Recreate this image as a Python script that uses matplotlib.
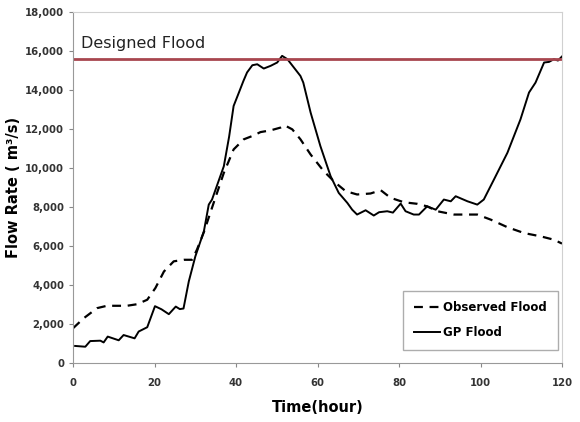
import numpy as np
import matplotlib.pyplot as plt
from matplotlib.ticker import FuncFormatter

# hours and flows
obs_hours = [0, 2.6, 5.9, 8.3, 13.2, 15.7, 18.2, 20.2, 22.3, 24.7, 27.2, 29.2, 30.4,
             32.1, 34.5, 37, 39.4, 41.9, 44, 46, 48.5, 50.9, 51.9, 53.8, 55.8,
             58.3, 61.5, 64.4, 66.9, 69.7, 73, 75.5, 77.9, 81.2, 84.5, 86.9,
             89.4, 93.5, 99.2, 102.5, 106.6, 110.7, 114.8, 118, 120]
obs_flow = [1770, 2280, 2800, 2920, 2920, 3000, 3230, 3830, 4680, 5200, 5280, 5280, 5800,
            6700, 8200, 9740, 10940, 11460, 11630, 11830, 11920, 12060, 12180, 11970, 11460,
            10680, 9830, 9230, 8800, 8630, 8680, 8850, 8460, 8230, 8150, 8020,
            7770, 7600, 7600, 7340, 6950, 6650, 6480, 6310, 6110]

gp_hours = [0.5, 3, 4.2, 6.7, 7.5, 8.5, 11.2, 12.4, 15.1, 16.1, 18.2, 20.1, 21.7,
            23.5, 25.2, 26.2, 27.1, 28.4, 30, 32.1, 33.3, 34.1, 37, 38.3, 39.4, 40.7,
            41.8, 42.7, 44, 45.2, 46.8, 48.5, 50.1, 51.3, 52.6, 54.2, 55.8, 56.5, 58.3,
            60.7, 63.2, 65.2, 67.3, 68.5, 69.7, 71.8, 73.8, 75.1, 77.1, 78.5, 80.4,
            81.6, 83.6, 84.9, 86.9, 89, 91, 92.7, 93.9, 96.8, 99.2, 100.8, 103.3,
            106.6, 109.8, 111.9, 113.5, 115.6, 116.8, 118, 119, 120]
gp_flow = [860, 820, 1110, 1130, 1040, 1340, 1150, 1420, 1250, 1600, 1820, 2900, 2740,
           2490, 2880, 2750, 2780, 4170, 5450, 6740, 8110, 8370, 10080, 11600, 13170, 13860,
           14450, 14890, 15260, 15310, 15090, 15230, 15400, 15740, 15570, 15140, 14710, 14370, 12830,
           11110, 9570, 8710, 8200, 7850, 7600, 7820, 7550, 7720, 7770, 7700, 8160,
           7770, 7600, 7600, 8020, 7850, 8370, 8280, 8540, 8280, 8110, 8370, 9400,
           10770, 12480, 13860, 14370, 15400, 15430, 15570, 15500, 15710]

design_flood = 15600

fig = plt.figure(figsize=(5.8, 4.22), dpi=100)
ax = fig.add_axes([0.126, 0.1405, 0.843, 0.8315])

ax.plot(obs_hours, obs_flow, color='black', lw=1.6, ls=(0, (4, 3)), label='Observed Flood')
ax.plot(gp_hours, gp_flow, color='black', lw=1.4, label='GP Flood')
ax.axhline(design_flood, color='#A8464F', lw=2)
ax.text(2, 16350, 'Designed Flood', fontsize=11.5, va='center', ha='left', color='#222222')

ax.set_xlim(0, 120)
ax.set_ylim(0, 18000)
ax.set_xticks(np.arange(0, 121, 20))
ax.set_yticks(np.arange(0, 18001, 2000))
ax.yaxis.set_major_formatter(FuncFormatter(lambda v, p: '{:,.0f}'.format(v)))
ax.tick_params(labelsize=7.3, length=3, color='#888888', labelcolor='#333333')
for lab in ax.get_xticklabels() + ax.get_yticklabels():
    lab.set_fontweight('bold')
ax.tick_params(axis='x', pad=8)

for s in ['left', 'bottom']:
    ax.spines[s].set_color('#999999')
for s in ['top', 'right']:
    ax.spines[s].set_color('#d0d0d0')

ax.set_xlabel('Time(hour)', fontsize=10.5, fontweight='bold', labelpad=9)
ax.set_ylabel('Flow Rate ( m³/s)', fontsize=10.5, fontweight='bold', labelpad=3)

leg = ax.legend(loc='lower right', bbox_to_anchor=(1.003, 0.02), fontsize=8.5,
                frameon=True, fancybox=False, edgecolor='#999999',
                handlelength=2.2, handletextpad=0.3, borderpad=0.9, labelspacing=1.0)
for t in leg.get_texts():
    t.set_fontweight('bold')

fig.savefig('out.png', dpi=100)
